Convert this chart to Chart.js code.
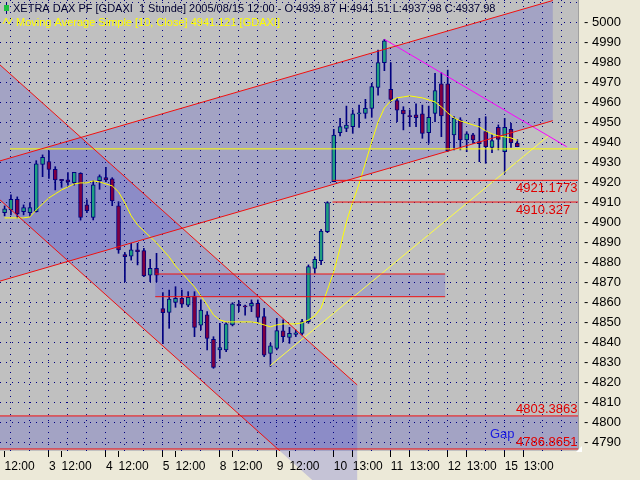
<!DOCTYPE html>
<html>
<head>
<meta charset="utf-8">
<script src="https://cdn.jsdelivr.net/npm/chart.js@4.4.0/dist/chart.umd.min.js"></script>
<style>
html, body { margin: 0; padding: 0; background: #ece9d8; }
#c { display: block; }
</style>
</head>
<body>
<canvas id="c" width="640" height="480"></canvas>
<script>
'use strict';

// ── Data (hourly candles, Aug 2 12:00 .. Aug 15 12:00) ─────────────────────

const OPEN = [
  4905, 4906.4, 4911.7, 4905.5, 4905, 4905.5, 4929.2, 4930.5, 4926.7, 4921.7,
  4921.4, 4920, 4924.7, 4908.9, 4902.7, 4921, 4922.5, 4921.9, 4908.4, 4884,
  4883.3, 4886.4, 4886, 4873.8, 4877.2, 4857, 4855.2, 4860.2, 4862.2, 4858.8,
  4863.3, 4848.8, 4853.9, 4841.7, 4836.4, 4836.4, 4848.9, 4859.3, 4858.4, 4858.3,
  4859.7, 4853, 4834.7, 4837.2, 4845.9, 4842.7, 4844.2, 4844.7, 4850.5, 4877.2,
  4881, 4895.5, 4920.5, 4945, 4947.2, 4948, 4954.4, 4954.7, 4957.2, 4967.7,
  4980, 4966.7, 4961, 4956.3, 4953.5, 4953.9, 4954.4, 4945, 4954.7, 4969.4,
  4969.4, 4943.9, 4951.4, 4941.4, 4943.9, 4940.5, 4945.5, 4937.7, 4947.7, 4935.5,
  4946.7, 4939.87
];
const HIGH = [
  4908.4, 4913.9, 4912.9, 4908.9, 4910, 4931, 4933.9, 4935.9, 4928, 4921.7,
  4925, 4925.2, 4925, 4911.4, 4921, 4923.9, 4927.7, 4922.5, 4910.5, 4885,
  4889.7, 4889.7, 4887.2, 4881.7, 4884.7, 4865, 4866.3, 4868, 4866.3, 4865.5,
  4865.5, 4861.4, 4855.5, 4843, 4849.7, 4850, 4860, 4861, 4858.8, 4861.4,
  4861.4, 4857.2, 4839.7, 4852.2, 4851.4, 4847.7, 4846.4, 4851.7, 4878.9, 4883,
  4896.7, 4910.5, 4946.7, 4952.2, 4958.3, 4956.4, 4958.8, 4961.7, 4969.7, 4986.3,
  4991.7, 4980, 4962.2, 4958, 4956.4, 4959.4, 4958.8, 4958.3, 4974.7, 4975,
  4976.3, 4953, 4952.5, 4945.5, 4944.7, 4952.2, 4953, 4943.9, 4948.9, 4952.2,
  4949.7, 4941.51
];
const LOW = [
  4903.4, 4903.9, 4902.4, 4903.9, 4903.4, 4905.3, 4923, 4922.2, 4916.4, 4917.7,
  4918.8, 4918.8, 4901.3, 4905, 4901.4, 4916.7, 4920.5, 4908.5, 4884.7, 4870.5,
  4881.3, 4878.9, 4873, 4870.5, 4870.5, 4839.5, 4847.2, 4857.7, 4857.7, 4858,
  4843, 4846.4, 4836.4, 4827.2, 4832.2, 4835.5, 4848.4, 4855.5, 4853.8, 4855.5,
  4850.5, 4833, 4828, 4836.4, 4840.5, 4839.7, 4843, 4843.9, 4849.7, 4874.7,
  4879, 4895, 4920.5, 4943.4, 4945.5, 4944.7, 4947.7, 4952.2, 4952.7, 4963.8,
  4976, 4960.5, 4950.5, 4946.4, 4948, 4948, 4942.2, 4939.7, 4950.5, 4943,
  4935.5, 4936.4, 4936.4, 4935.5, 4939.7, 4930.5, 4929.7, 4935, 4936.4, 4924.7,
  4937.7, 4937.98
];
const CLOSE = [
  4906.9, 4911.7, 4904.4, 4907.5, 4907.5, 4929.4, 4932.7, 4926.7, 4921.4, 4921,
  4920.4, 4925.2, 4902.7, 4906, 4918.9, 4923, 4921.4, 4910.9, 4886.4, 4883,
  4886.4, 4885.5, 4873.4, 4877.2, 4873.8, 4855, 4861.8, 4862.2, 4859.3, 4862.7,
  4847.7, 4856.3, 4842.2, 4827.6, 4837.5, 4849.4, 4859.4, 4858.4, 4857.9, 4859.7,
  4852.7, 4833.8, 4838.4, 4846, 4843, 4844.7, 4844.9, 4850.5, 4878, 4881.7,
  4895.8, 4910, 4943.8, 4948, 4948.8, 4954.4, 4954.9, 4957.2, 4968, 4980,
  4990.9, 4961.7, 4956.3, 4954.4, 4953, 4952.5, 4944.7, 4952.7, 4966, 4953.4,
  4936, 4952.2, 4941.4, 4944.4, 4941.4, 4939.5, 4938, 4941, 4941.7, 4947.7,
  4940, 4937.98
];
// Moving Average Simple [10, Close], as drawn
const MA10 = [
  4902.4, 4902.4, 4902.4, 4902.4, 4902.9, 4906.4, 4909.4, 4912.4, 4914.4, 4916.4,
  4917.9, 4919.4, 4919.9, 4919.9, 4920.9, 4920.4, 4919.4, 4918.4, 4915.4, 4909.9,
  4903.4, 4898.9, 4895.9, 4892.9, 4889.9, 4886.4, 4882.9, 4878.4, 4874.9, 4871.4,
  4867.9, 4863.4, 4858.9, 4853.9, 4851.4, 4850.4, 4850.4, 4850.4, 4850.4, 4850.4,
  4849.9, 4848.9, 4847.9, 4848.9, 4849.4, 4849.4, 4849.4, 4849.9, 4851.4, 4853.4,
  4857.4, 4866.4, 4875.4, 4887.4, 4900.4, 4910.4, 4919.4, 4929.9, 4940.4, 4950.4,
  4957.4, 4960.9, 4962.4, 4962.9, 4963.4, 4962.9, 4962.4, 4961.4, 4960.4, 4957.9,
  4954.9, 4952.4, 4950.9, 4949.9, 4948.9, 4947.9, 4945.9, 4944.4, 4943.4, 4942.9,
  4942.4, 4941.121
];

// x axis: candle index of each labelled tick, and its text
const DAY_TICKS  = [0, 7, 9, 16, 18, 25, 27, 34, 36, 43, 45, 52, 55, 61, 64, 70, 73, 79, 82];
const DAY_LABELS = ['12:00', '3', '12:00', '4', '12:00', '5', '12:00', '8', '12:00', '9',
                    '12:00', '10', '13:00', '11', '13:00', '12', '13:00', '15', '13:00'];
// dotted vertical grid every 3 hours
const GRID_IDX = [1, 4, 7, 10, 13, 16, 19, 22, 25, 28, 31, 34, 37, 40, 43, 46, 49, 52,
                  55, 58, 61, 64, 67, 70, 73, 76, 79, 82, 85, 88];
const PRICE_TICKS = [4790, 4800, 4810, 4820, 4830, 4840, 4850, 4860, 4870, 4880, 4890,
                     4900, 4910, 4920, 4930, 4940, 4950, 4960, 4970, 4980, 4990, 5000, 5010];

// drawing tools: [candle index, price] end points
const UP_TOP   = [[-0.73, 4930.9], [86.6, 5011.1]];
const UP_BOT   = [[-0.73, 4870.8], [86.6, 4951.0]];
const DOWN_TOP = [[-0.73, 4978.9], [55.7, 4818.9]];
const DOWN_BOT = [[-0.73, 4911.4], [48.6, 4771.4]];
const RESIST   = [[60, 4991.7], [88.8, 4938.0]];
const SUPPORT  = [[41.9, 4828.4], [85.9, 4943.4]];
const LEVEL    = [[0.85, 4936.9], [90.6, 4936.9]];

// gaps: upper / lower price, start / end index
const GAP_HI   = [4921.1773, 4874.35, 4803.3863];
const GAP_LO   = [4910.327, 4863.0, 4786.8651];
const GAP_FROM = [51.8, 23.8, -0.73];
const GAP_TO   = [90.6, 69.6, 90.6];

const X_MIN = -0.727, X_MAX = 90.585;
const Y_MIN = 4785.85, Y_MAX = 5011.35;

// ── Styles ─────────────────────────────────────────────────────────────────

const NARROW = '"Liberation Sans Narrow", "Liberation Sans", sans-serif';
const NAVY   = '#000080';
const UP_COL = '#1f9f80';
const DN_COL = '#800040';
const RED    = '#f01010';
const SHADE  = 'rgba(60, 60, 210, 0.22)';

const toXY = pts => pts.map(([x, y]) => ({ x, y }));

function lineSet(pts, color) {
    return { type: 'line', data: toXY(pts), borderColor: color, borderWidth: 1,
             pointRadius: 0, fill: false, tension: 0, order: 0 };
}

// ── Plugins ────────────────────────────────────────────────────────────────

function polyPath(ctx, x, y, pts) {
    ctx.beginPath();
    pts.forEach(([i, v], k) => {
        const px = x.getPixelForValue(i), py = y.getPixelForValue(v);
        k ? ctx.lineTo(px, py) : ctx.moveTo(px, py);
    });
    ctx.closePath();
}

const backdrop = {
    id: 'backdrop',
    beforeDraw(chart) {
        const { ctx, chartArea: a, scales: { x, y } } = chart;
        ctx.save();
        ctx.fillStyle = '#ece9d8';
        ctx.fillRect(0, 0, chart.width, chart.height);
        ctx.fillStyle = '#c0c0c0';
        ctx.fillRect(a.left, a.top, a.right - a.left, a.bottom - a.top);
        ctx.fillStyle = SHADE;

        // falling channel spills below the plot
        polyPath(ctx, x, y, [DOWN_TOP[0], DOWN_TOP[1], [DOWN_TOP[1][0], DOWN_BOT[1][1]],
                             DOWN_BOT[1], DOWN_BOT[0]]);
        ctx.fill();

        ctx.beginPath();
        ctx.rect(a.left, a.top, a.right - a.left, a.bottom - a.top);
        ctx.clip();
        polyPath(ctx, x, y, [UP_TOP[0], UP_TOP[1], UP_BOT[1], UP_BOT[0]]);
        ctx.fill();
        for (let g = 1; g < GAP_HI.length; g++) {
            polyPath(ctx, x, y, [[GAP_FROM[g], GAP_HI[g]], [GAP_TO[g], GAP_HI[g]],
                                 [GAP_TO[g], GAP_LO[g]], [GAP_FROM[g], GAP_LO[g]]]);
            ctx.fill();
        }
        ctx.restore();
    }
};

const overlay = {
    id: 'overlay',
    afterDatasetsDraw(chart) {
        const { ctx, chartArea: a, scales: { y } } = chart;
        ctx.save();
        ctx.font = '13px ' + NARROW;
        ctx.textAlign = 'left';
        ctx.textBaseline = 'alphabetic';
        ctx.fillStyle = '#e00000';
        const lx = a.right - 62;
        [0, 2].forEach(g => {
            const dy = g === 0 ? 11.5 : -3;
            ctx.fillText(String(GAP_HI[g]), lx, y.getPixelForValue(GAP_HI[g]) + dy);
            ctx.fillText(String(GAP_LO[g]), lx, y.getPixelForValue(GAP_LO[g]) + dy);
        });
        ctx.fillStyle = '#1a1ae0';
        ctx.fillText('Gap', a.right - 88, y.getPixelForValue(GAP_LO[2]) - 11);

        // header
        const n = CLOSE.length - 1;
        ctx.font = '11px "Liberation Sans", sans-serif';
        ctx.fillStyle = '#000030';
        ctx.fillText(`XETRA DAX PF [GDAXI  1 Stunde] 2005/08/15 12:00 - O:${OPEN[n].toFixed(2)} ` +
                     `H:${HIGH[n].toFixed(2)} L:${LOW[n].toFixed(2)} C:${CLOSE[n].toFixed(2)}`, 13, 12);
        ctx.fillStyle = '#ffff00';
        ctx.fillText(`Moving Average Simple [10, Close] ${MA10[n].toFixed(3)} [GDAXI]`, 16, 26);

        // legend glyphs
        ctx.fillStyle = NAVY;
        ctx.fillRect(6, 2, 1, 12);
        ctx.fillStyle = '#20c040';
        ctx.fillRect(4, 5, 5, 6);
        ctx.strokeStyle = '#ffff00';
        ctx.beginPath();
        ctx.moveTo(3, 24); ctx.lineTo(6, 18); ctx.lineTo(9, 24); ctx.lineTo(12, 18);
        ctx.stroke();

        // window size grip in the corner
        ctx.fillStyle = '#ffffff';
        ctx.beginPath();
        ctx.moveTo(a.right + 4, a.bottom - 5); ctx.lineTo(a.right + 4, a.bottom + 1);
        ctx.lineTo(a.right - 2, a.bottom + 1);
        ctx.closePath();
        ctx.fill();
        ctx.restore();
    }
};

// ── Chart ──────────────────────────────────────────────────────────────────

new Chart(document.getElementById('c'), {
    type: 'bar',
    data: {
        datasets: [
            lineSet(UP_TOP, RED),
            lineSet(UP_BOT, RED),
            lineSet(DOWN_TOP, RED),
            lineSet(DOWN_BOT, RED),
            lineSet([[GAP_FROM[0], GAP_HI[0]], [GAP_TO[0], GAP_HI[0]]], RED),
            lineSet([[GAP_FROM[0], GAP_LO[0]], [GAP_TO[0], GAP_LO[0]]], RED),
            lineSet([[GAP_FROM[1], GAP_HI[1]], [GAP_TO[1], GAP_HI[1]]], RED),
            lineSet([[GAP_FROM[1], GAP_LO[1]], [GAP_TO[1], GAP_LO[1]]], RED),
            lineSet([[GAP_FROM[2], GAP_HI[2]], [GAP_TO[2], GAP_HI[2]]], RED),
            lineSet([[GAP_FROM[2], GAP_LO[2]], [GAP_TO[2], GAP_LO[2]]], RED),
            lineSet(RESIST, '#ff00ff'),
            lineSet(SUPPORT, '#ffff40'),
            lineSet(LEVEL, '#ffff00'),
            {
                type: 'line', order: 1,
                data: MA10.map((v, i) => ({ x: i, y: v })),
                borderColor: '#ffff00', borderWidth: 1, pointRadius: 0, tension: 0
            },
            {
                type: 'bar', order: 2, grouped: false,
                data: OPEN.map((o, i) => ({ x: i, y: [o, CLOSE[i]] })),
                backgroundColor: OPEN.map((o, i) => CLOSE[i] >= o ? UP_COL : DN_COL),
                borderColor: NAVY, borderWidth: 1, borderSkipped: false,
                barThickness: 4, minBarLength: 1
            },
            {
                type: 'bar', order: 3, grouped: false,
                data: LOW.map((l, i) => ({ x: i, y: [l, HIGH[i]] })),
                backgroundColor: NAVY, borderWidth: 0, barThickness: 1
            }
        ]
    },
    options: {
        responsive: false,
        animation: false,
        layout: { padding: 0 },
        plugins: { legend: { display: false }, tooltip: { enabled: false } },
        scales: {
            x: {
                type: 'linear', min: X_MIN, max: X_MAX, offset: false,
                afterBuildTicks: s => {
                    const all = [...new Set([...DAY_TICKS, ...GRID_IDX])].sort((p, q) => p - q);
                    s.ticks = all.map(v => ({ value: v }));
                },
                afterFit: s => { s.height = 29; s.paddingLeft = 0; s.paddingRight = 0; },
                grid: {
                    offset: false, tickLength: 6,
                    color: c => (c.tick && GRID_IDX.includes(c.tick.value)) ? NAVY : 'rgba(0,0,0,0)',
                    tickColor: c => (c.tick && DAY_TICKS.includes(c.tick.value)) ? '#000' : 'rgba(0,0,0,0)'
                },
                border: { display: false, dash: [1, 5] },
                ticks: {
                    autoSkip: false, maxRotation: 0, align: 'start', padding: 2,
                    color: '#000', font: { family: NARROW, size: 12 },
                    callback: v => { const k = DAY_TICKS.indexOf(v); return k < 0 ? '' : DAY_LABELS[k]; }
                }
            },
            y: {
                position: 'right', min: Y_MIN, max: Y_MAX, beginAtZero: false,
                afterBuildTicks: s => { s.ticks = PRICE_TICKS.map(v => ({ value: v })); },
                afterFit: s => { s.width = 62; s.paddingTop = 0; s.paddingBottom = 0; },
                grid: { color: NAVY, drawTicks: false },
                border: { display: true, color: '#a0a0a0', dash: [1, 5] },
                ticks: {
                    padding: 6, color: '#000', font: { family: NARROW, size: 13 },
                    callback: v => v > 5000 ? '' : '- ' + v
                }
            }
        }
    },
    plugins: [backdrop, overlay]
});
</script>
</body>
</html>
